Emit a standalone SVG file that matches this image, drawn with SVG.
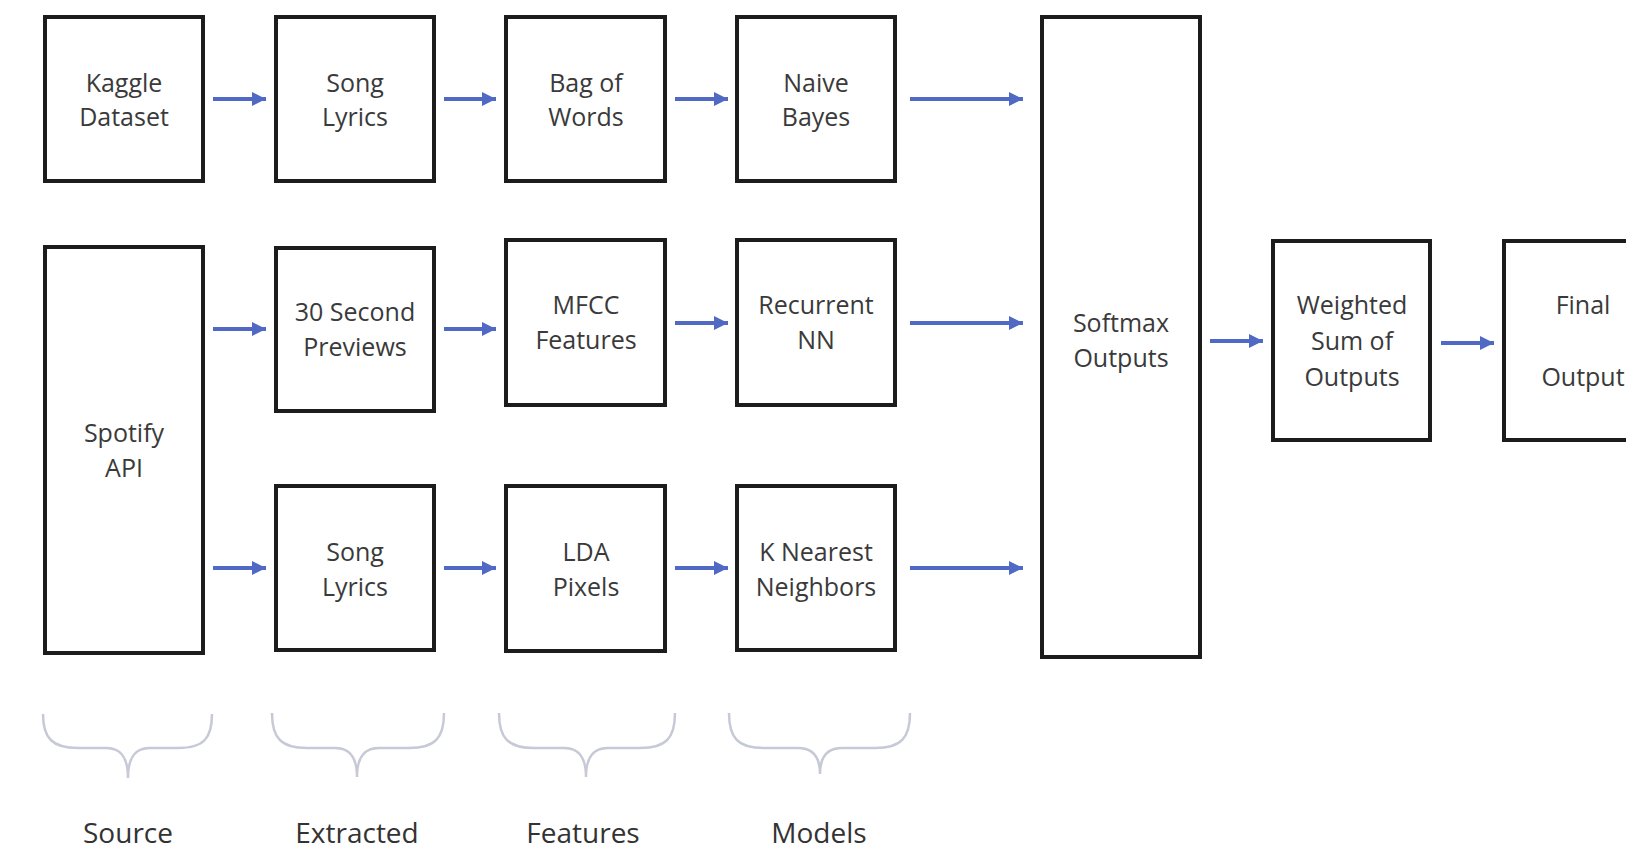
<svg xmlns="http://www.w3.org/2000/svg" width="1626" height="854" viewBox="0 0 1626 854">
<style>
.box{fill:#ffffff;stroke:#1c1c1c;stroke-width:4}
.t{font-family:"Open Sans","Noto Sans",sans-serif;font-size:25px;fill:#3a3a3a;text-anchor:middle}
.lbl{font-family:"Open Sans","Noto Sans",sans-serif;font-size:28px;fill:#333333;text-anchor:middle}
.arr{stroke:#5069c4;stroke-width:4;fill:none;marker-end:url(#ah)}
.brace{stroke:#c6c9d6;stroke-width:2.5;fill:none}
</style>
<defs>
<marker id="ah" markerUnits="userSpaceOnUse" markerWidth="14" markerHeight="14" refX="14" refY="7" orient="auto">
<path d="M0,0 L14,7 L0,14 z" fill="#5069c4"/>
</marker>
</defs>
<rect width="1626" height="854" fill="#ffffff"/>
<g id="kaggle"><rect class="box" x="45" y="17" width="158" height="164"/><text class="t" x="124" y="92">Kaggle</text><text class="t" x="124" y="126">Dataset</text></g>
<g id="lyrics1"><rect class="box" x="276" y="17" width="158" height="164"/><text class="t" x="355" y="92">Song</text><text class="t" x="355" y="126">Lyrics</text></g>
<g id="bow"><rect class="box" x="506" y="17" width="159" height="164"/><text class="t" x="586" y="92">Bag of</text><text class="t" x="586" y="126">Words</text></g>
<g id="nb"><rect class="box" x="737" y="17" width="158" height="164"/><text class="t" x="816" y="92">Naive</text><text class="t" x="816" y="126">Bayes</text></g>
<g id="softmax"><rect class="box" x="1042" y="17" width="158" height="640"/><text class="t" x="1121" y="332">Softmax</text><text class="t" x="1121" y="367">Outputs</text></g>
<g id="spotify"><rect class="box" x="45" y="247" width="158" height="406"/><text class="t" x="124" y="442">Spotify</text><text class="t" x="124" y="477">API</text></g>
<g id="previews"><rect class="box" x="276" y="248" width="158" height="163"/><text class="t" x="355" y="321">30 Second</text><text class="t" x="355" y="356">Previews</text></g>
<g id="mfcc"><rect class="box" x="506" y="240" width="159" height="165"/><text class="t" x="586" y="314">MFCC</text><text class="t" x="586" y="349">Features</text></g>
<g id="rnn"><rect class="box" x="737" y="240" width="158" height="165"/><text class="t" x="816" y="314">Recurrent</text><text class="t" x="816" y="349">NN</text></g>
<g id="lyrics2"><rect class="box" x="276" y="486" width="158" height="164"/><text class="t" x="355" y="561">Song</text><text class="t" x="355" y="596">Lyrics</text></g>
<g id="lda"><rect class="box" x="506" y="486" width="159" height="165"/><text class="t" x="586" y="561">LDA</text><text class="t" x="586" y="596">Pixels</text></g>
<g id="knn"><rect class="box" x="737" y="486" width="158" height="164"/><text class="t" x="816" y="561">K Nearest</text><text class="t" x="816" y="596">Neighbors</text></g>
<g id="weighted"><rect class="box" x="1273" y="241" width="157" height="199"/><text class="t" x="1352" y="314">Weighted</text><text class="t" x="1352" y="350">Sum of</text><text class="t" x="1352" y="386">Outputs</text></g>
<g id="final"><rect class="box" x="1504" y="241" width="158" height="199"/><text class="t" x="1583" y="314">Final</text><text class="t" x="1583" y="386">Output</text></g>
<g id="connectors">
<line class="arr" x1="213" y1="99" x2="266" y2="99"/>
<line class="arr" x1="444" y1="99" x2="496" y2="99"/>
<line class="arr" x1="675" y1="99" x2="728" y2="99"/>
<line class="arr" x1="910" y1="99" x2="1023" y2="99"/>
<line class="arr" x1="213" y1="329" x2="266" y2="329"/>
<line class="arr" x1="444" y1="329" x2="496" y2="329"/>
<line class="arr" x1="675" y1="323" x2="728" y2="323"/>
<line class="arr" x1="910" y1="323" x2="1023" y2="323"/>
<line class="arr" x1="213" y1="568" x2="266" y2="568"/>
<line class="arr" x1="444" y1="568" x2="496" y2="568"/>
<line class="arr" x1="675" y1="568" x2="728" y2="568"/>
<line class="arr" x1="910" y1="568" x2="1023" y2="568"/>
<line class="arr" x1="1210" y1="341" x2="1263" y2="341"/>
<line class="arr" x1="1441" y1="343" x2="1494" y2="343"/>
</g>
<g id="braces">
<path class="brace" d="M43,714 C43,738 52,748 78,748 L106,748 C120,748 128,756 128,778 C128,756 136,748 150,748 L178,748 C204,748 212,738 212,714"/>
<path class="brace" d="M272,713 C272,738 281,748 307,748 L335,748 C349,748 357,756 357,777 C357,756 365,748 379,748 L409,748 C435,748 444,738 444,713"/>
<path class="brace" d="M499,713 C499,738 508,748 534,748 L564,748 C578,748 586,756 586,777 C586,756 594,748 608,748 L640,748 C666,748 675,738 675,713"/>
<path class="brace" d="M729,713 C729,738 738,748 764,748 L798,748 C812,748 820,756 820,774 C820,756 828,748 842,748 L875,748 C901,748 910,738 910,713"/>
</g>
<g id="labels">
<text class="lbl" x="128" y="843">Source</text>
<text class="lbl" x="357" y="843">Extracted</text>
<text class="lbl" x="583" y="843">Features</text>
<text class="lbl" x="819" y="843">Models</text>
</g>
</svg>
